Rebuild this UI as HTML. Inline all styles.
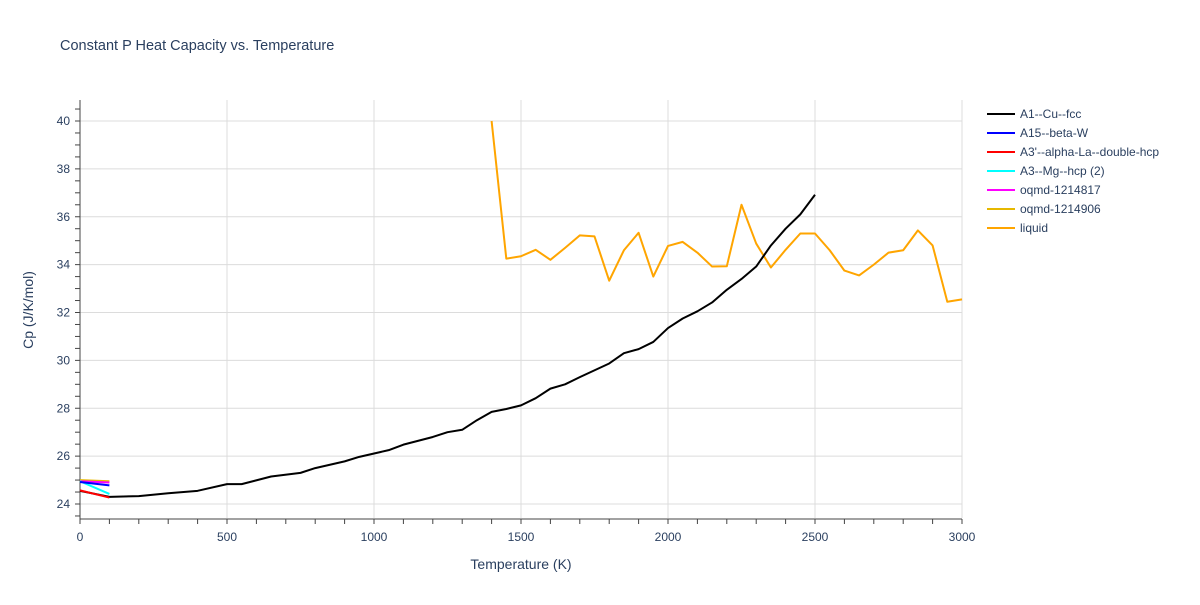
<!DOCTYPE html>
<html><head><meta charset="utf-8"><style>
body{margin:0;background:#fff;font-family:"Liberation Sans",sans-serif;}
svg text{font-family:"Liberation Sans",sans-serif;fill:#2a3f5f;}
</style></head><body>
<svg id="chart" width="1200" height="600">
<text x="60" y="50" font-size="14.5">Constant P Heat Capacity vs. Temperature</text>
<g id="grid"></g><g id="axes"></g><g id="series"></g><g id="legend"></g>
<text x="521" y="569" font-size="14" text-anchor="middle">Temperature (K)</text>
<text transform="translate(33,310) rotate(-90)" font-size="14" text-anchor="middle">Cp (J/K/mol)</text>
</svg>
<script>
const xTicks=[0,500,1000,1500,2000,2500,3000];
const yTicks=[24,26,28,30,32,34,36,38,40];
const seriesNames=["A1--Cu--fcc","A15--beta-W","A3'--alpha-La--double-hcp","A3--Mg--hcp (2)","oqmd-1214817","oqmd-1214906","liquid"];
const seriesColors=["#000000","#0000ff","#ff0000","#00ffff","#ff00ff","#e6b800","#ffa500"];
const cuT=[0,100,200,300,400,500,550,650,750,800,900,950,1050,1100,1200,1250,1300,1350,1400,1450,1500,1550,1600,1650,1700,1800,1850,1900,1950,2000,2050,2100,2150,2200,2250,2300,2350,2400,2450,2500];
const cuCp=[24.55,24.3,24.33,24.45,24.55,24.83,24.83,25.15,25.3,25.5,25.78,25.97,26.25,26.48,26.8,27.0,27.1,27.5,27.85,27.97,28.12,28.42,28.82,29.0,29.3,29.87,30.3,30.47,30.77,31.35,31.75,32.05,32.42,32.95,33.4,33.92,34.8,35.5,36.1,36.92];
const lowT=[0,100];
const a15Cp=[24.92,24.78];
const laCp=[24.57,24.27];
const mgCp=[24.95,24.42];
const o817Cp=[24.95,24.9];
const o906Cp=[25.0,24.95];
const liqT=[1400,1450,1500,1550,1600,1650,1700,1750,1800,1850,1900,1950,2000,2050,2100,2150,2200,2250,2300,2350,2400,2450,2500,2550,2600,2650,2700,2750,2800,2850,2900,2950,3000];
const liqCp=[40.0,34.25,34.35,34.62,34.2,34.7,35.22,35.18,33.33,34.6,35.33,33.5,34.78,34.95,34.5,33.92,33.93,36.5,34.88,33.88,34.62,35.3,35.3,34.6,33.75,33.55,34.0,34.5,34.6,35.43,34.8,32.45,32.55];
const X=t=>80+t*882/3000;
const Y=v=>504-(v-24)*383/16;
const NS="http://www.w3.org/2000/svg";
function mk(tag,attrs,parent){const e=document.createElementNS(NS,tag);for(const k in attrs)e.setAttribute(k,attrs[k]);parent.appendChild(e);return e;}
const grid=document.getElementById('grid'),axes=document.getElementById('axes'),ser=document.getElementById('series'),leg=document.getElementById('legend');
xTicks.forEach(t=>{
 if(t>0){const l=mk('line',{x1:X(t),x2:X(t),y1:100,y2:518,stroke:'#dcdcdc','stroke-width':1},grid);
 
 }
 const tx=mk('text',{x:X(t),y:541,'font-size':12,'text-anchor':'middle'},axes);tx.textContent=t;
 
 
});
yTicks.forEach(v=>{
 const l=mk('line',{x1:80,x2:962,y1:Y(v),y2:Y(v),stroke:'#dcdcdc','stroke-width':1},grid);
 
 
 const tx=mk('text',{x:70,y:Y(v)+4,'font-size':12,'text-anchor':'end'},axes);tx.textContent=v;
 
 
});
for(let v=23.5;v<=40.6;v+=0.5){const tk=mk('line',{x1:75,x2:80,y1:Y(v),y2:Y(v),stroke:'#444','stroke-width':1},axes);
 
 }
for(let t=0;t<=3000;t+=100){const tk=mk('line',{x1:X(t),x2:X(t),y1:519,y2:524,stroke:'#444','stroke-width':1},axes);
 
 }
const ax=mk('line',{x1:80,x2:80,y1:100,y2:519,stroke:'#444','stroke-width':1},axes);


const xax=mk('line',{x1:80,x2:962,y1:519,y2:519,stroke:'#444','stroke-width':1},axes);


const data=[[cuT,cuCp],[lowT,a15Cp],[lowT,laCp],[lowT,mgCp],[lowT,o817Cp],[lowT,o906Cp],[liqT,liqCp]];
const order=[6,5,4,3,1,0,2];
order.forEach(i=>{
 const [ts,vs]=data[i];
 const p=mk('polyline',{points:ts.map((t,j)=>X(t)+','+Y(vs[j])).join(' '),fill:'none',stroke:seriesColors[i],'stroke-width':2,'stroke-linejoin':'round'},ser);
 
 
});
seriesNames.forEach((n,i)=>{
 const y=114+i*19;
 const g=mk('g',{},leg);
 
 
 mk('line',{x1:987,x2:1015,y1:y,y2:y,stroke:seriesColors[i],'stroke-width':2},g);
 const t=mk('text',{x:1020,y:y+4,'font-size':12},g);t.textContent=n;
});
</script>
</body></html>
